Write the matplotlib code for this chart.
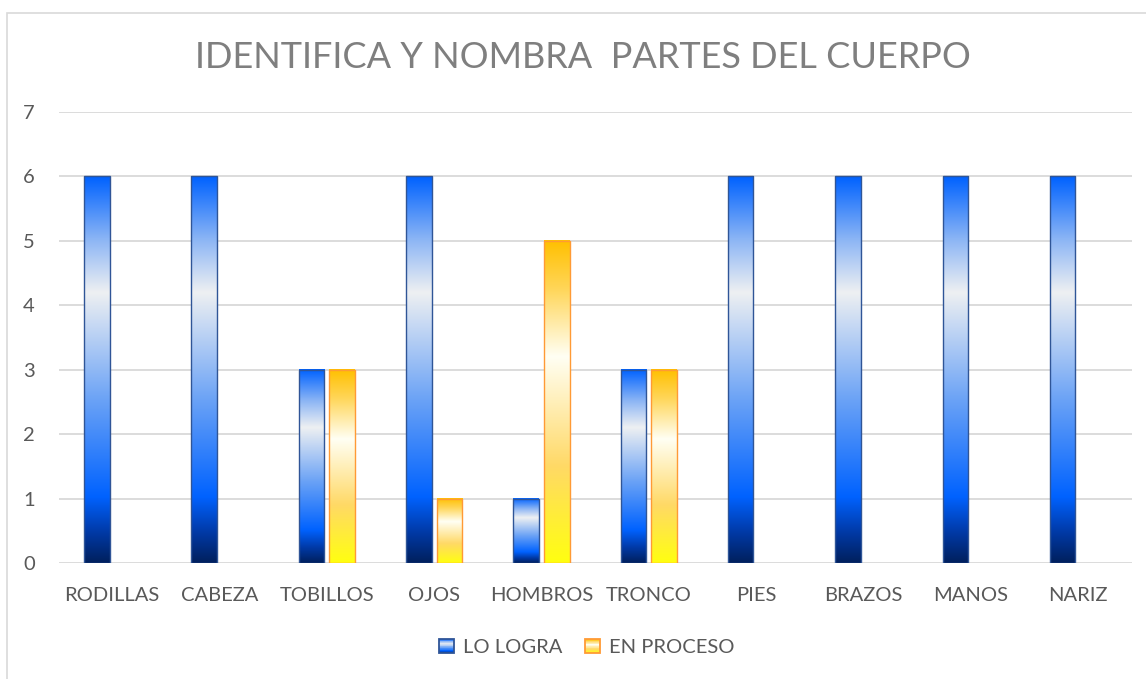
import numpy as np
import matplotlib
matplotlib.use('Agg')
import matplotlib.pyplot as plt
from matplotlib.colors import LinearSegmentedColormap
from matplotlib.patches import Rectangle
from matplotlib.legend_handler import HandlerBase

plt.rcParams['font.family'] = ['Lato', 'DejaVu Sans']

# datos del gráfico
partes = ['RODILLAS', 'CABEZA', 'TOBILLOS', 'OJOS', 'HOMBROS',
          'TRONCO', 'PIES', 'BRAZOS', 'MANOS', 'NARIZ']
lo_logra = [6, 6, 3, 6, 1, 3, 6, 6, 6, 6]
en_proceso = [0, 0, 3, 1, 5, 3, 0, 0, 0, 0]
series = ['LO LOGRA', 'EN PROCESO']
titulo = 'IDENTIFICA Y NOMBRA  PARTES DEL CUERPO'

# degradados tipo Excel (de abajo hacia arriba)
cmap_azul = LinearSegmentedColormap.from_list('azul', [
    (0.0, '#00205E'), (0.08, '#003AA8'), (0.17, '#0062FF'),
    (0.42, '#6AA2F6'), (0.70, '#EEF0F2'), (0.84, '#8AB4F5'),
    (1.0, '#0062FF')])
cmap_naranja = LinearSegmentedColormap.from_list('naranja', [
    (0.0, '#FFFF10'), (0.30, '#FFD966'), (0.64, '#FFFFF4'),
    (0.85, '#FFD659'), (1.0, '#FFC000')])
borde_azul = '#2F5597'
borde_naranja = '#FF9A35'

gradiente = np.linspace(0, 1, 256).reshape(-1, 1)


class HandlerGradiente(HandlerBase):
    def __init__(self, cmap, borde):
        super().__init__()
        self.cmap = cmap
        self.borde = borde

    def create_artists(self, legend, orig_handle, xdescent, ydescent,
                       width, height, fontsize, trans):
        n = 20
        arts = []
        for i in range(n):
            r = Rectangle((-xdescent, -ydescent + height * i / n), width,
                          height / n + 0.2, facecolor=self.cmap((i + 0.5) / n),
                          edgecolor='none', transform=trans)
            arts.append(r)
        arts.append(Rectangle((-xdescent, -ydescent), width, height,
                              facecolor='none', edgecolor=self.borde,
                              linewidth=1.3, transform=trans))
        return arts


fig = plt.figure(figsize=(11.46, 6.79), dpi=100)
ax = fig.add_axes([0.0511, 0.1708, 0.9364, 0.6642])

x = np.arange(len(partes))
ancho = 0.237
desp = 0.143

b1 = ax.bar(x - desp, lo_logra, ancho, facecolor='none',
            edgecolor=borde_azul, linewidth=1.0, zorder=3)
b2 = ax.bar(x + desp, en_proceso, ancho, facecolor='none',
            edgecolor=borde_naranja, linewidth=1.0, zorder=3)

for barras, cmap in [(b1, cmap_azul), (b2, cmap_naranja)]:
    for p in barras:
        h = p.get_height()
        if h <= 0:
            p.set_visible(False)
            continue
        x0 = p.get_x()
        ax.imshow(gradiente, cmap=cmap, origin='lower', aspect='auto',
                  extent=(x0, x0 + p.get_width(), 0, h), zorder=2,
                  interpolation='bilinear')

ax.set_xlim(-0.5, len(partes) - 0.5)
ax.set_ylim(0, 7)
ax.set_yticks(range(0, 8))
ax.set_xticks(x)
ax.set_xticklabels(partes)
ax.grid(axis='y', color='#D9D9D9', linewidth=1.3, zorder=0)
ax.set_axisbelow(True)
for s in ax.spines.values():
    s.set_visible(False)
ax.tick_params(length=0, labelsize=14.5, colors='#595959')
ax.tick_params(axis='x', pad=17)
ax.tick_params(axis='y', pad=17)

fig.text(0.5087, 1 - 57 / 679, titulo, ha='center', va='center',
         fontsize=26, color='#7F7F7F')

fig.legend([b1, b2], series, loc='center', bbox_to_anchor=(0.512, 0.046),
           ncol=2, frameon=False, fontsize=14.5, labelcolor='#595959',
           handlelength=0.75, handleheight=0.65, handletextpad=0.45,
           columnspacing=1.1,
           handler_map={b1: HandlerGradiente(cmap_azul, borde_azul),
                        b2: HandlerGradiente(cmap_naranja, borde_naranja)})

# marco exterior del gráfico
fig.patches.append(Rectangle((7 / 1146, -0.05), 1.2, 1 - 13 / 679 + 0.05,
                             transform=fig.transFigure, facecolor='none',
                             edgecolor='#D9D9D9', linewidth=1.2))

fig.savefig('out.png', dpi=100)
